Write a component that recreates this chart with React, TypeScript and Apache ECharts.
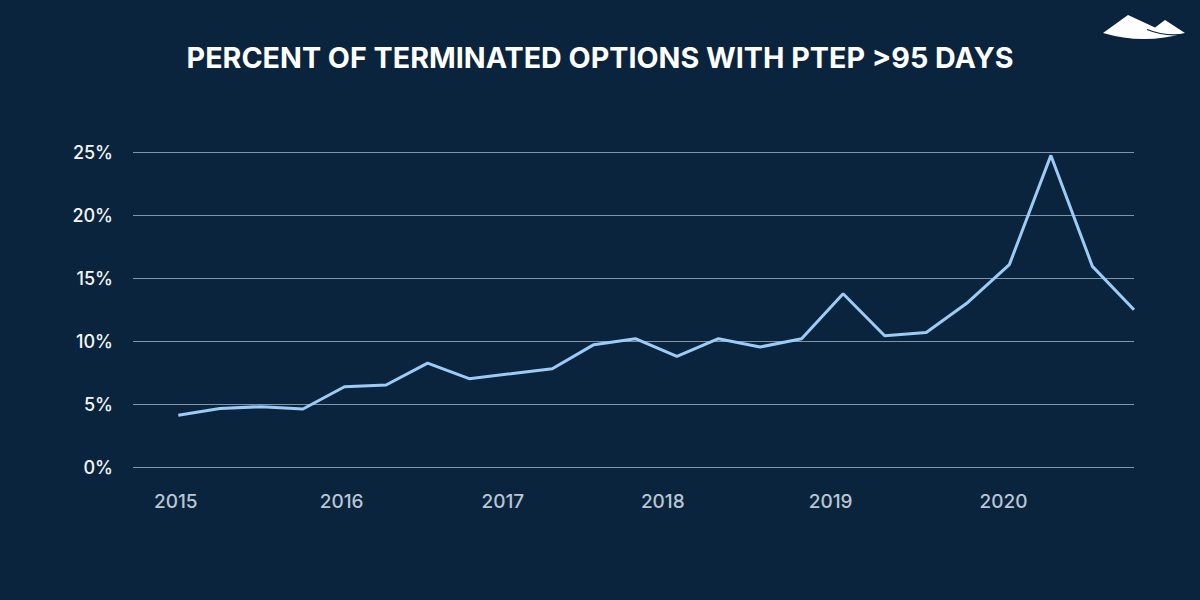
import React, { useEffect, useRef } from "react";
import * as echarts from "echarts";

const quarters = [
  "2015 Q1", "2015 Q2", "2015 Q3", "2015 Q4",
  "2016 Q1", "2016 Q2", "2016 Q3", "2016 Q4",
  "2017 Q1", "2017 Q2", "2017 Q3", "2017 Q4",
  "2018 Q1", "2018 Q2", "2018 Q3", "2018 Q4",
  "2019 Q1", "2019 Q2", "2019 Q3", "2019 Q4",
  "2020 Q1", "2020 Q2", "2020 Q3", "2020 Q4",
];
const percentValues = [
  4.1, 4.65, 4.79, 4.6,
  6.37, 6.51, 8.25, 7.01,
  7.4, 7.8, 9.71, 10.18,
  8.78, 10.18, 9.52, 10.18,
  13.75, 10.42, 10.68, 13.06,
  16.06, 24.73, 15.92, 12.48,
];
const yearLabels = ["2015", "2016", "2017", "2018", "2019", "2020"];
// where the reference placed each year label, in quarter-index units
const yearLabelPositions = [-0.06, 3.93, 7.81, 11.66, 15.7, 19.86];
const yTicks = [0, 5, 10, 15, 20, 25];

const TITLE = "PERCENT OF TERMINATED OPTIONS WITH PTEP >95 DAYS";
const LOGO_D =
  "M0 18 L25 0 L52 12.5 L62 5 L82 18 Q41 30 0 18 Z";

let logoRegistered = false;
function ensureLogo() {
  if (logoRegistered) return;
  echarts.graphic.registerShape("logo", echarts.graphic.extendPath(LOGO_D, {}));
  logoRegistered = true;
}

export default function App() {
  const ref = useRef<HTMLDivElement>(null);
  useEffect(() => {
    if (!ref.current) return;
    ensureLogo();
    const chart = echarts.init(ref.current, undefined, { renderer: "svg" });
    const seriesData = percentValues.map((v, i) => [i, v]);
    chart.setOption({
      animation: false,
      backgroundColor: "#0b243d",
      title: {
        text: TITLE,
        left: "center",
        top: 43,
        padding: 0,
        textStyle: {
          color: "#ffffff",
          fontFamily: "Inter",
          fontWeight: 700,
          fontSize: 28.7,
        },
      },
      grid: { left: 133, right: 66, top: 152, bottom: 133, containLabel: false },
      xAxis: {
        type: "value",
        min: -1.09,
        max: quarters.length - 1,
        axisLine: { show: false },
        axisTick: { show: false },
        splitLine: { show: false },
        axisLabel: {
          customValues: yearLabelPositions,
          formatter: (val: number) => {
            const idx = yearLabelPositions.findIndex((p) => Math.abs(p - val) < 1e-6);
            return idx >= 0 ? yearLabels[idx] : "";
          },
          color: "#b9c6d3",
          fontFamily: "Inter",
          fontWeight: 500,
          fontSize: 19,
          margin: 25,
        },
      },
      yAxis: {
        type: "value",
        min: yTicks[0],
        max: yTicks[yTicks.length - 1],
        interval: 5,
        axisLine: { show: false },
        axisTick: { show: false },
        splitLine: { lineStyle: { color: "#7f95a9", width: 1 } },
        axisLabel: {
          formatter: "{value}%",
          color: "#f4f6f8",
          fontFamily: "Inter",
          fontWeight: 500,
          fontSize: 18,
          margin: 20,
        },
      },
      series: [
        {
          type: "line",
          name: "PTEP >95 days",
          data: seriesData,
          showSymbol: false,
          symbol: "none",
          lineStyle: { color: "#9ccbf5", width: 3 },
          itemStyle: { color: "#9ccbf5" },
        },
      ],
      graphic: [
        {
          type: "logo",
          x: 1103,
          y: 15,
          scaleX: 1,
          scaleY: 1,
          style: { fill: "#ffffff" },
        },
        {
          type: "bezierCurve",
          shape: { x1: 44, y1: 14.5, cpx1: 60, cpy1: 21, x2: 82, y2: 19, cpx2: 75, cpy2: 20 },
          x: 1103,
          y: 15,
          style: { stroke: "#0b243d", lineWidth: 1.2, fill: null },
        },
      ],
    });
    return () => chart.dispose();
  }, []);
  return (
    <div
      ref={ref}
      style={{ position: "fixed", left: 0, top: 0, width: 1200, height: 600 }}
    />
  );
}
